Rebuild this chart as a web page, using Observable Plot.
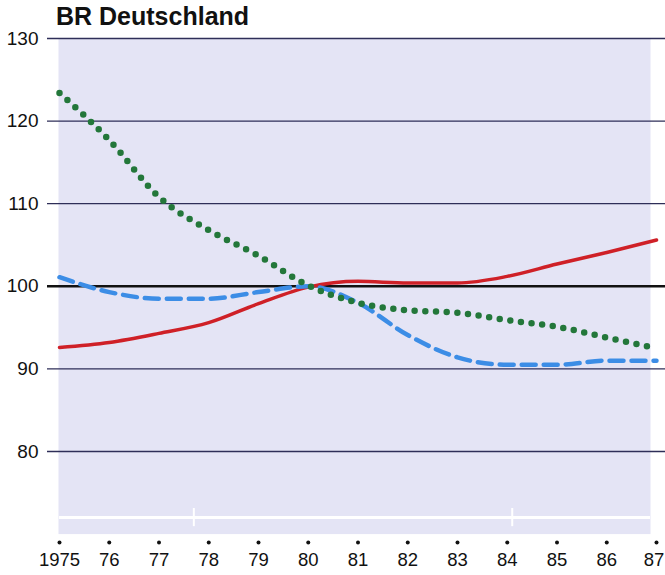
<!DOCTYPE html>
<html>
<head>
<meta charset="utf-8">
<script src="https://cdn.jsdelivr.net/npm/d3@7"></script>
<script src="https://cdn.jsdelivr.net/npm/@observablehq/plot@0.6"></script>
<style>
  html, body { margin: 0; padding: 0; background: #fff; }
  #title { font-family: "Liberation Sans", Arial, sans-serif; font-weight: bold; font-size: 25px;
           height: 30px; line-height: 30px; padding-left: 56px; padding-top: 1px; box-sizing: border-box; color: #111; }
  #chart svg { overflow: visible; }
</style>
</head>
<body>
<div id="title">BR Deutschland</div>
<div id="chart"></div>
<script>
const years = [1975, 1976, 1977, 1978, 1979, 1980, 1981, 1982, 1983, 1984, 1985, 1986, 1987];
const yearLabels = ["1975", "76", "77", "78", "79", "80", "81", "82", "83", "84", "85", "86", "87"];
const redSeries   = [92.6, 93.2, 94.3, 95.6, 97.9, 99.9, 100.6, 100.4, 100.4, 101.2, 102.7, 104.1, 105.6];
const blueSeries  = [101.1, 99.3, 98.5, 98.5, 99.3, 100.0, 98.0, 94.1, 91.4, 90.5, 90.5, 91.0, 91.0];
const greenSeries = [123.4, 117.7, 110.8, 106.8, 103.7, 100.1, 98.0, 97.1, 96.8, 95.9, 95.1, 93.8, 92.5];
const yTicks = [80, 90, 100, 110, 120, 130];
const baseLine = [100];
const breakLine = [72];
const breakMarks = [1977.7, 1984.1];

const red = years.map((x, i) => ({x, y: redSeries[i]}));
const blue = years.map((x, i) => ({x, y: blueSeries[i]}));
const green = years.map((x, i) => ({x, y: greenSeries[i]}));
const ticks = years.map((x, i) => ({x, label: yearLabels[i]}));
const lastIdx = ticks.length - 1;

const chart = Plot.plot({
  width: 665,
  height: 545,
  marginTop: 8,
  marginBottom: 41.4,
  marginLeft: 59,
  marginRight: 9,
  style: {fontFamily: "Liberation Sans, Arial, sans-serif", background: "transparent", overflow: "visible"},
  x: {domain: [1975, 1987], axis: null},
  y: {domain: [70, 130], axis: null},
  marks: [
    Plot.frame({fill: "#e4e4f5", stroke: null, insetRight: 6, insetLeft: -1}),
    Plot.ruleY(breakLine, {stroke: "#ffffff", strokeWidth: 3, insetRight: 6}),
    Plot.ruleX(breakMarks, {y1: 70.9, y2: 73.1, stroke: "#ffffff", strokeWidth: 2}),
    Plot.ruleY(yTicks.filter(d => d !== 100), {stroke: "#2e2e58", strokeWidth: 1.3, insetLeft: -12, insetRight: -9}),
    Plot.ruleY(baseLine, {stroke: "#111111", strokeWidth: 2.5, insetLeft: -12, insetRight: -9}),
    Plot.axisY({ticks: yTicks, tickSize: 0, tickPadding: 21, fontSize: 19, color: "#111", label: null}),
    Plot.line(red, {x: "x", y: "y", stroke: "#cf2027", strokeWidth: 3.5, curve: "monotone-x"}),
    Plot.line(blue, {x: "x", y: "y", stroke: "#3c8de6", strokeWidth: 4.5, strokeDasharray: "14 8", curve: "monotone-x"}),
    Plot.line(green, {x: "x", y: "y", stroke: "#23773a", strokeWidth: 6.5, strokeDasharray: "0 10.7", strokeLinecap: "round", curve: "monotone-x"}),
    Plot.dot(ticks, {x: "x", frameAnchor: "bottom", dy: 8.5, r: 2, fill: "#111", stroke: null}),
    Plot.text(ticks.slice(0, lastIdx), {x: "x", text: "label", frameAnchor: "bottom", dy: 25.5, fontSize: 18.5, fill: "#111", lineAnchor: "middle"}),
    Plot.text(ticks.slice(lastIdx), {x: "x", text: "label", frameAnchor: "bottom", dy: 25.5, dx: -2.5, fontSize: 18.5, fill: "#111", lineAnchor: "middle"})
  ]
});
document.getElementById("chart").appendChild(chart);
</script>
</body>
</html>
